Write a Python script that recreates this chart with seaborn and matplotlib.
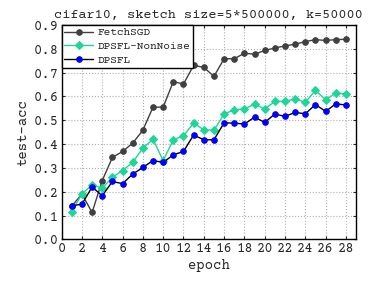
import numpy as np
import pandas as pd
import matplotlib
matplotlib.use("Agg")
import matplotlib.pyplot as plt
import seaborn as sns

# values
epochs = list(range(1, 29))
fetchsgd = [0.14, 0.19, 0.113, 0.247, 0.344, 0.369, 0.404, 0.458, 0.555, 0.555,
            0.662, 0.652, 0.730, 0.722, 0.684, 0.758, 0.758, 0.781, 0.777, 0.793,
            0.803, 0.812, 0.819, 0.830, 0.838, 0.835, 0.838, 0.840]
nonnoise = [0.117, 0.191, 0.229, 0.215, 0.261, 0.289, 0.323, 0.383, 0.420, 0.331,
            0.418, 0.435, 0.488, 0.460, 0.458, 0.526, 0.544, 0.547, 0.568, 0.547,
            0.579, 0.579, 0.590, 0.575, 0.625, 0.586, 0.614, 0.610]
dpsfl = [0.141, 0.148, 0.220, 0.183, 0.243, 0.234, 0.274, 0.302, 0.331, 0.323,
         0.355, 0.369, 0.438, 0.418, 0.418, 0.489, 0.488, 0.484, 0.513, 0.491,
         0.526, 0.516, 0.533, 0.527, 0.566, 0.537, 0.569, 0.564]
x_ticks = list(range(0, 29, 2))
y_ticks = [round(0.1 * i, 1) for i in range(10)]

sns.set_style("ticks")
plt.rcParams['font.family'] = ['Courier Prime', 'DejaVu Sans Mono']

fig = plt.figure(figsize=(3.69, 2.83), dpi=100)
ax = fig.add_axes([0.167, 0.154, 0.798, 0.758])

sns.lineplot(x=epochs, y=fetchsgd, ax=ax, color='#404040', marker='o',
             markersize=4, markeredgecolor='#404040', linewidth=1, label='FetchSGD')
sns.lineplot(x=epochs, y=nonnoise, ax=ax, color='#1ed696', marker='D',
             markersize=4, markeredgecolor='#1ed696', linewidth=1, label='DPSFL-NonNoise')
sns.lineplot(x=epochs, y=dpsfl, ax=ax, color='black', marker='o', markersize=4,
             markerfacecolor='blue', markeredgecolor='blue', linewidth=1, label='DPSFL')

ax.set_xlim(0, 29)
ax.set_ylim(0, 0.9)
ax.set_xticks(x_ticks)
ax.set_yticks(y_ticks)
ax.set_yticklabels([f"{v:.1f}" for v in y_ticks])
ax.tick_params(direction='in', top=True, right=True, length=2, labelsize=10, pad=2)
ax.grid(True, linestyle=':', color='#b0b0b0', linewidth=0.8)
for s in ax.spines.values():
    s.set_color('black')
    s.set_linewidth(1)

ax.set_title("cifar10, sketch size=5*500000, k=50000", fontsize=9.7, pad=5)
ax.set_xlabel("epoch", fontsize=10, labelpad=3)
ax.set_ylabel("test-acc", fontsize=10, labelpad=3)

leg = ax.legend(loc='upper left', fontsize=8, frameon=True, fancybox=False,
                borderaxespad=0, framealpha=1, edgecolor='black',
                borderpad=0.25, labelspacing=0.35, handlelength=2.6, handletextpad=0.4)
leg.get_frame().set_linewidth(1)

fig.savefig("out.png", dpi=100)
